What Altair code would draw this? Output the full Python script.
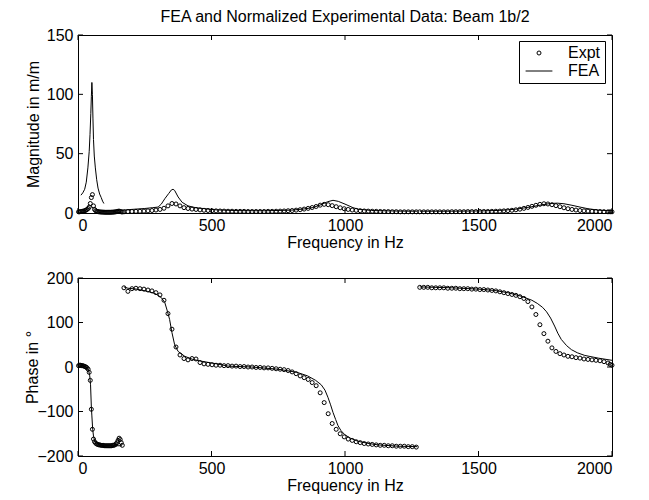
import altair as alt
import pandas as pd

# ---------------- text ----------------
TITLE = "FEA and Normalized Experimental Data: Beam 1b/2"
X_TITLE = "Frequency in Hz"
MAG_TITLE = "Magnitude in m/m"
PHASE_TITLE = "Phase in °"
series_names = ["Expt", "FEA"]

# ---------------- ticks ----------------
x_ticks = [0, 500, 1000, 1500, 2000]
mag_ticks = [0, 50, 100, 150]
phase_ticks = [-200, -100, 0, 100, 200]

# ---------------- experimental data (three measurement bands) ----------------
expt1_freq = [2, 6, 10, 14, 18, 22, 26, 30, 34, 38, 42, 46, 50, 54, 58, 62, 66, 70, 74, 78,
              82, 86, 90, 94, 98, 102, 106, 110, 114, 118, 122, 126, 130, 134, 138, 142, 146,
              150, 154, 158, 162, 166]
expt1_mag = [1.0, 1.0, 1.2, 1.3, 1.5, 1.7, 2.0, 2.4, 3.0, 3.8,
             5.0, 8.0, 13.0, 15.5, 6.0, 3.0, 2.0, 1.5, 1.2, 1.0,
             0.9, 0.8, 0.8, 0.7, 0.7, 0.6, 0.6, 0.6, 0.6, 0.6,
             0.6, 0.7, 0.7, 0.8, 0.9, 1.0, 1.2, 1.5, 1.6, 1.3,
             1.0, 0.9]
expt1_phase = [3, 4, 4, 3, 3, 2, 1, 0, -2, -5,
               -12, -30, -95, -140, -162, -168, -171, -173, -174, -175,
               -175, -176, -176, -176, -177, -177, -177, -177, -177, -177,
               -177, -177, -176, -176, -175, -173, -170, -165, -160, -163,
               -170, -176]

expt2_freq = [172, 187, 202, 217, 232, 247, 262, 277, 292, 307,
              322, 337, 352, 367, 382, 397, 412, 427, 442, 457,
              472, 487, 502, 517, 532, 547, 562, 577, 592, 607,
              622, 637, 652, 667, 682, 697, 712, 727, 742, 757,
              772, 787, 802, 817, 832, 847, 862, 877, 892, 907,
              922, 937, 952, 967, 982, 997, 1012, 1027, 1042, 1057,
              1072, 1087, 1102, 1117, 1132, 1147, 1162, 1177, 1192, 1207,
              1222, 1237, 1252, 1267]
expt2_mag = [1.0, 1.2, 1.3, 1.4, 1.5, 1.6, 1.8, 2.1, 2.5, 3.0,
             4.0, 6.0, 8.0, 7.6, 6.0, 4.5, 3.8, 3.3, 3.0, 2.6,
             2.3, 2.1, 1.9, 1.8, 1.7, 1.6, 1.5, 1.5, 1.4, 1.4,
             1.4, 1.3, 1.3, 1.3, 1.3, 1.3, 1.4, 1.4, 1.5, 1.6,
             1.7, 1.9, 2.1, 2.4, 2.8, 3.3, 3.9, 4.6, 5.5, 6.6,
             7.3, 7.0, 6.2, 5.3, 4.4, 3.6, 3.0, 2.5, 2.2, 1.9,
             1.7, 1.6, 1.5, 1.4, 1.3, 1.2, 1.2, 1.1, 1.1, 1.0,
             1.0, 1.0, 1.0, 1.0]
expt2_phase = [178, 170, 176, 177, 176, 175, 173, 171, 167, 162,
               150, 120, 85, 45, 27, 19, 16, 19, 18, 10,
               7, 6, 5, 4, 4, 3, 3, 2, 2, 1,
               1, 0, 0, -1, -1, -2, -2, -3, -4, -5,
               -6, -8, -11, -15, -20, -24, -28, -35, -42, -58,
               -80, -105, -127, -140, -150, -157, -162, -165, -168, -170,
               -172, -173, -174, -175, -176, -176, -177, -177, -178, -178,
               -178, -179, -179, -180]

expt3_freq = [1280, 1295, 1310, 1325, 1340, 1355, 1370, 1385, 1400, 1415,
              1430, 1445, 1460, 1475, 1490, 1505, 1520, 1535, 1550, 1565,
              1580, 1595, 1610, 1625, 1640, 1655, 1670, 1685, 1700, 1715,
              1730, 1745, 1760, 1775, 1790, 1805, 1820, 1835, 1850, 1865,
              1880, 1895, 1910, 1925, 1940, 1955, 1970, 1985, 1993, 2000]
expt3_mag = [1.0, 1.0, 1.0, 1.0, 1.0, 1.0, 1.0, 1.0, 1.1, 1.1,
             1.1, 1.1, 1.2, 1.2, 1.2, 1.3, 1.3, 1.3, 1.4, 1.5,
             1.6, 1.8, 2.0, 2.3, 2.7, 3.2, 3.9, 4.7, 5.6, 6.5,
             7.3, 7.8, 7.6, 7.0, 6.2, 5.3, 4.4, 3.6, 3.0, 2.5,
             2.1, 1.8, 1.6, 1.4, 1.3, 1.2, 1.1, 1.0, 1.0, 1.0]
expt3_phase = [179, 179, 179, 178, 178, 178, 178, 177, 177, 177,
               176, 176, 176, 175, 175, 174, 174, 173, 172, 171,
               169, 167, 165, 163, 161, 158, 154, 147, 135, 118,
               95, 75, 58, 43, 35, 30, 27, 24, 23, 21,
               20, 18, 17, 16, 15, 14, 12, 9, 6, 4]

# ---------------- FEA model curves ----------------
fea_mag1_freq = [11, 18, 25, 31, 37, 42, 45, 48, 50, 52, 54, 56, 58, 61, 65, 70, 75, 81, 87, 92, 97]
fea_mag1 = [15, 17, 20, 26, 38, 52, 66, 84, 98, 110, 100, 80, 62, 48, 38, 28, 21, 16, 13, 10, 8]
fea_mag2_freq = [172, 200, 250, 280, 300, 312, 325, 340, 350, 356,
                 362, 375, 390, 412, 440, 475, 520, 600, 700, 800,
                 850, 880, 910, 935, 955, 975, 1000, 1030, 1050, 1100,
                 1200, 1270]
fea_mag2 = [2.5, 3.0, 3.8, 4.5, 5.0, 7.5, 12.0, 16.5, 19.5, 20.0,
            19.0, 13.5, 9.0, 6.0, 4.5, 3.6, 2.6, 2.0, 1.9, 2.4,
            3.5, 4.6, 7.0, 9.5, 10.7, 9.8, 7.5, 4.5, 3.2, 2.1,
            1.6, 1.5]
fea_mag3_freq = [1280, 1400, 1500, 1580, 1640, 1700, 1740, 1770, 1795, 1820, 1850, 1880, 1910, 1950, 2000]
fea_mag3 = [1.5, 1.5, 1.7, 2.2, 3.2, 5.3, 7.0, 8.0, 8.3, 7.8, 6.5, 5.0, 3.6, 2.4, 1.8]

fea_ph1_freq = [0, 10, 20, 30, 36, 40, 44, 47, 50, 52, 55, 58, 62, 70, 80, 100, 130, 165]
fea_ph1 = [5, 4, 3, 0, -4, -8, -20, -40, -90, -110, -140, -155, -165, -172, -175, -177, -177, -177]
fea_ph2_freq = [172, 187, 220, 260, 290, 312, 325, 335, 343, 352,
                362, 375, 400, 430, 462, 520, 562, 650, 750, 820,
                860, 890, 911, 925, 936, 946, 955, 965, 974, 985,
                999, 1020, 1049, 1090, 1124, 1200, 1270]
fea_ph2 = [180, 177, 175, 170, 165, 156, 145, 125, 107, 77,
           50, 35, 24, 17, 13, 7, 2, 0, -5, -12,
           -20, -30, -40, -52, -68, -85, -102, -118, -132, -143,
           -152, -160, -167, -172, -175, -178, -179]
fea_ph3_freq = [1280, 1400, 1500, 1560, 1610, 1660, 1700, 1720, 1740, 1755,
                1770, 1785, 1797, 1810, 1830, 1848, 1870, 1898, 1948, 2000]
fea_ph3 = [180, 178, 175, 172, 167, 159, 150, 143, 134, 124,
           110, 92, 76, 62, 48, 39, 32, 26, 20, 15]

# ---------------- tables ----------------
expt = pd.concat([
    pd.DataFrame({"freq": expt1_freq, "mag": expt1_mag, "phase": expt1_phase}),
    pd.DataFrame({"freq": expt2_freq, "mag": expt2_mag, "phase": expt2_phase}),
    pd.DataFrame({"freq": expt3_freq, "mag": expt3_mag, "phase": expt3_phase}),
], ignore_index=True)
expt["series"] = "Expt"

fea_mag = pd.concat([
    pd.DataFrame({"freq": fea_mag1_freq, "mag": fea_mag1, "seg": 1}),
    pd.DataFrame({"freq": fea_mag2_freq, "mag": fea_mag2, "seg": 2}),
    pd.DataFrame({"freq": fea_mag3_freq, "mag": fea_mag3, "seg": 3}),
], ignore_index=True)
fea_phase = pd.concat([
    pd.DataFrame({"freq": fea_ph1_freq, "phase": fea_ph1, "seg": 1}),
    pd.DataFrame({"freq": fea_ph2_freq, "phase": fea_ph2, "seg": 2}),
    pd.DataFrame({"freq": fea_ph3_freq, "phase": fea_ph3, "seg": 3}),
], ignore_index=True)

# ---------------- layout ----------------
W, H = 534, 178
TICK = 5
FONT = "Liberation Sans"
FS = 16

x_enc = alt.X("freq:Q", scale=alt.Scale(domain=[0, 2000], nice=False, zero=False),
              axis=alt.Axis(values=x_ticks, title=X_TITLE, format="d",
                            labelPadding=4, titlePadding=1))


def panel(col, ticks, domain, ytitle, title_pad, fea_df, with_legend, title=None):
    y_enc = alt.Y(f"{col}:Q", scale=alt.Scale(domain=domain, nice=False, zero=False),
                  axis=alt.Axis(values=ticks, title=ytitle, format="d",
                                labelPadding=5, titlePadding=title_pad))
    line = alt.Chart(fea_df).mark_line(color="black", strokeWidth=1).encode(
        x=x_enc, y=y_enc, detail="seg:N")
    pts_mark = alt.Chart(expt).mark_point(filled=False, color="black", size=16,
                                          strokeWidth=1, opacity=1)
    if with_legend:
        pts = pts_mark.encode(
            x=x_enc, y=y_enc,
            shape=alt.Shape("series:N", title=None,
                            scale=alt.Scale(domain=series_names,
                                            range=["circle", "M-6.7,0H6.7"]),
                            legend=alt.Legend(orient="none", legendX=441, legendY=6,
                                              strokeColor="black", fillColor="white",
                                              padding=4, rowPadding=2,
                                              labelFont=FONT, labelFontSize=FS,
                                              labelColor="black", labelOffset=21,
                                              symbolOffset=8,
                                              symbolSize=16, symbolStrokeWidth=1,
                                              symbolStrokeColor="black",
                                              symbolFillColor="transparent",
                                              cornerRadius=0)))
    else:
        pts = pts_mark.encode(x=x_enc, y=y_enc)
    xt = pd.DataFrame({"freq": x_ticks})
    yt = pd.DataFrame({col: ticks})
    rule = dict(color="black", strokeWidth=1)
    t_bot = alt.Chart(xt).mark_rule(**rule).encode(x=x_enc, y=alt.value(H), y2=alt.value(H - TICK))
    t_top = alt.Chart(xt).mark_rule(**rule).encode(x=x_enc, y=alt.value(0), y2=alt.value(TICK))
    t_left = alt.Chart(yt).mark_rule(**rule).encode(y=y_enc, x=alt.value(0), x2=alt.value(TICK))
    t_right = alt.Chart(yt).mark_rule(**rule).encode(y=y_enc, x=alt.value(W), x2=alt.value(W - TICK))
    ch = alt.layer(line, pts, t_bot, t_top, t_left, t_right).properties(width=W, height=H)
    if title is not None:
        ch = ch.properties(title=alt.Title(title, font=FONT, fontSize=FS, fontWeight="normal",
                                           color="black", anchor="middle", frame="group",
                                           offset=2))
    return ch


top = panel("mag", mag_ticks, [0, 150], MAG_TITLE, 5, fea_mag, True, TITLE)
bottom = panel("phase", phase_ticks, [-200, 200], PHASE_TITLE, -4, fea_phase, False)

chart = alt.vconcat(top, bottom, spacing=18).resolve_scale(shape="independent").resolve_legend(
    shape="independent"
).properties(
    padding={"left": 16, "top": 0, "right": 5, "bottom": 0}
).configure_view(
    stroke="black", strokeWidth=1
).configure_axis(
    grid=False, domain=False, ticks=False, tickSize=0,
    labelFont=FONT, labelFontSize=FS, labelColor="black",
    titleFont=FONT, titleFontSize=FS, titleFontWeight="normal", titleColor="black"
)

chart.save("out.html", embed_options={"renderer": "svg", "actions": False})
